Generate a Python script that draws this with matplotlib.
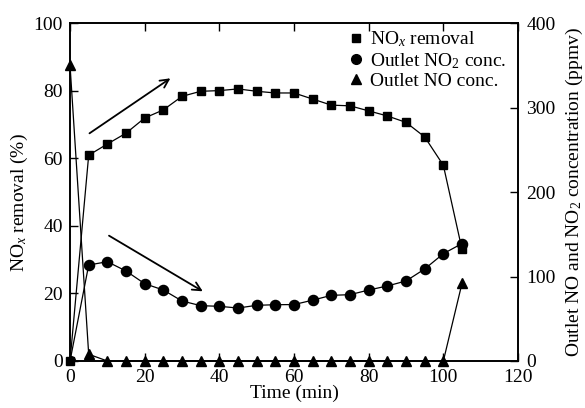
import matplotlib
matplotlib.use("Agg")
import matplotlib.pyplot as plt
from matplotlib.lines import Line2D

plt.rcParams.update({
    "font.family": "Liberation Serif",
    "mathtext.fontset": "custom",
    "mathtext.rm": "Liberation Serif",
    "mathtext.it": "Liberation Serif:italic",
    "font.size": 14,
})

# ── Data ────────────────────────────────────────────────────────────────────
time = [0, 5, 10, 15, 20, 25, 30, 35, 40, 45, 50, 55, 60, 65, 70, 75, 80, 85,
        90, 95, 100, 105]
nox_removal = [0, 60.9, 64.2, 67.4, 71.9, 74.3, 78.3, 79.8, 80.0, 80.5, 79.8,
               79.3, 79.3, 77.5, 75.7, 75.5, 74.0, 72.5, 70.6, 66.3, 57.9, 33.0]
no2_conc = [0, 113.6, 117.5, 106.5, 91.5, 84, 71, 65.5, 64.7, 62.7, 65.9, 66.6,
            66.8, 72, 77.7, 78.5, 84, 88.8, 94.7, 108.9, 127, 139]
no_conc = [350, 8, 0, 0, 0, 0, 0, 0, 0, 0, 0, 0, 0, 0, 0, 0, 0, 0, 0, 0, 0, 92]

# arrows (data coords on left axis): start, end
arrow_up = ((4.6, 66.9), (27.5, 84.1))
arrow_down = ((9.8, 37.5), (36.2, 20.2))

fig = plt.figure(figsize=(5.85, 4.08), dpi=100)
ax = fig.add_axes([0.1197, 0.1152, 0.7658, 0.8284])
ax2 = ax.twinx()

ax.plot(time, nox_removal, color="black", lw=0.9, marker="s", ms=6.3, zorder=3,
        clip_on=False)
ax2.plot(time, no2_conc, color="black", lw=0.9, marker="o", ms=7.3, zorder=3)
ax2.plot(time, no_conc, color="black", lw=0.9, marker="^", ms=6.8, zorder=3,
         clip_on=False)

for (x0, y0), (x1, y1) in [arrow_up, arrow_down]:
    ax.annotate("", xy=(x1, y1), xytext=(x0, y0),
                arrowprops=dict(arrowstyle="->", color="black", lw=1.3,
                                mutation_scale=15))

ax.set_xlim(0, 120)
ax.set_ylim(0, 100)
ax2.set_ylim(0, 400)
ax.set_xticks(range(0, 121, 20))
ax.set_yticks(range(0, 101, 20))
ax2.set_yticks(range(0, 401, 100))

ax.tick_params(axis="both", direction="in", length=6, width=1, top=True,
               labelsize=14)
ax.tick_params(axis="x", pad=6)
ax.tick_params(axis="y", pad=5)
ax2.tick_params(axis="y", direction="in", length=6, width=1, labelsize=14,
                pad=6)
for a in (ax, ax2):
    for s in a.spines.values():
        s.set_linewidth(1.2)

ax.set_xlabel("Time (min)", labelpad=-1)
ax.set_ylabel(r"NO$_\mathit{x}$ removal (%)", labelpad=6)
ax.yaxis.set_label_coords(-0.09, 0.47)
ax2.set_ylabel("Outlet NO and NO$_2$ concentration (ppmv)", labelpad=6)

handles = [
    Line2D([], [], ls="none", marker="s", ms=6, color="black"),
    Line2D([], [], ls="none", marker="o", ms=7, color="black"),
    Line2D([], [], ls="none", marker="^", ms=6.5, color="black"),
]
labels = [r"NO$_\mathit{x}$ removal", "Outlet NO$_2$ conc.", "Outlet NO conc."]
ax.legend(handles, labels, loc="upper right", bbox_to_anchor=(1.0, 1.015),
          frameon=False, handlelength=0.6, handletextpad=0.4,
          labelspacing=0.08, borderaxespad=0.2, fontsize=14)

fig.savefig("out.png", dpi=100)
